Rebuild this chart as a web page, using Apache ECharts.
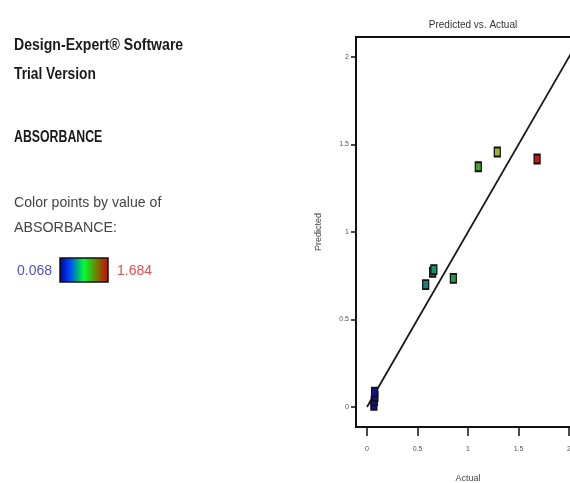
<!DOCTYPE html>
<html><head><meta charset="utf-8">
<script src="https://cdn.jsdelivr.net/npm/echarts@6/dist/echarts.min.js"></script>
<style>html,body{margin:0;padding:0;background:#fff}#c{width:570px;height:483px}</style>
</head><body><div id="c"></div>
<script>
var actual    = [0.068, 0.072, 0.078, 0.075, 0.581, 0.650, 0.662, 0.855, 1.102, 1.290, 1.684];
var predicted = [0.010, 0.035, 0.060, 0.085, 0.699, 0.770, 0.785, 0.735, 1.373, 1.457, 1.417];
var tickValues = [0, 0.5, 1, 1.5, 2];
var tickLabels = ['0', '0.5', '1', '1.5', '2'];
var colorRange = [0.068, 1.684];
var fitLine = [0, 2.11];

var pts = actual.map(function(a, i){ return [a, predicted[i]]; });
var font = '"Liberation Sans", Arial, sans-serif';
function lab(v){ var i = tickValues.indexOf(v); return i >= 0 ? tickLabels[i] : ''; }
function txt(s, x, y, f, fill, sx){
  return { type: 'text', x: x, y: y, scaleX: sx, originX: 0, originY: 0,
    style: { text: s, font: f, fill: fill, verticalAlign: 'middle', align: 'left' } };
}

var chart = echarts.init(document.getElementById('c'));
chart.setOption({
  animation: false,
  title: { text: 'Predicted vs. Actual', left: 468, top: 15, textAlign: 'center',
    textStyle: { fontFamily: font, fontSize: 10, fontWeight: 'normal', color: '#333' } },
  grid: { left: 356, top: 37, width: 224, height: 390, show: true, borderColor: '#111', borderWidth: 2,
    containLabel: false, outerBoundsMode: 'none' },
  xAxis: { type: 'value', min: -0.109, max: 2.109,
    splitLine: { show: false },
    axisLine: { onZero: false, lineStyle: { color: '#111', width: 2 } },
    axisTick: { customValues: tickValues, length: 9, lineStyle: { color: '#111', width: 1.5 } },
    axisLabel: { customValues: tickValues, formatter: lab, fontSize: 7, color: '#555', fontFamily: font, margin: 19 },
    name: 'Actual', nameLocation: 'middle', nameGap: 47,
    nameTextStyle: { fontFamily: font, fontSize: 9, color: '#444' } },
  yAxis: { type: 'value', min: -0.114, max: 2.114,
    splitLine: { show: false },
    axisLine: { onZero: false, lineStyle: { color: '#111', width: 2 } },
    axisTick: { customValues: tickValues, length: 5, lineStyle: { color: '#111', width: 1.5 } },
    axisLabel: { customValues: tickValues, formatter: lab, fontSize: 7, color: '#555', fontFamily: font, margin: 7 },
    name: 'Predicted', nameLocation: 'middle', nameGap: 33, nameRotate: 90,
    nameTextStyle: { fontFamily: font, fontSize: 9, color: '#444' } },
  visualMap: { type: 'continuous', show: false, seriesIndex: 1, dimension: 0,
    min: colorRange[0], max: colorRange[1],
    inRange: { color: ['#12128a', '#1a60b0', '#1a9a60', '#2e9a30', '#b8c030', '#c01818'] } },
  series: [
    { type: 'line', data: [[fitLine[0], fitLine[0]], [fitLine[1], fitLine[1]]], showSymbol: false,
      lineStyle: { color: '#1a1a1a', width: 1.8 }, silent: true, z: 1 },
    { type: 'scatter', data: pts, symbol: 'rect', symbolSize: [6, 9],
      itemStyle: { borderColor: '#111', borderWidth: 1.5, opacity: 1 }, z: 3 }
  ],
  graphic: [
    txt('Design-Expert® Software', 14, 46, 'bold 16px ' + font, '#1a1a1a', 0.88),
    txt('Trial Version', 14, 75, 'bold 16px ' + font, '#1a1a1a', 0.86),
    txt('ABSORBANCE', 14, 138, 'bold 16px ' + font, '#1a1a1a', 0.77),
    txt('Color points by value of', 14, 203, '15px ' + font, '#444', 0.94),
    txt('ABSORBANCE:', 14, 228, '15px ' + font, '#444', 0.95),
    txt(String(colorRange[0]), 17, 271, '14px ' + font, '#5050c0', 1),
    txt(String(colorRange[1]), 117, 271, '14px ' + font, '#e05050', 1),
    { type: 'rect', shape: { x: 60, y: 258, width: 48, height: 24 },
      style: { stroke: '#111', lineWidth: 1.5,
        fill: new echarts.graphic.LinearGradient(0, 0, 1, 0, [
          { offset: 0, color: '#00008a' }, { offset: 0.2, color: '#0040ff' },
          { offset: 0.5, color: '#00ff30' }, { offset: 0.75, color: '#708000' },
          { offset: 1, color: '#d00000' }]) } }
  ]
});
</script></body></html>
